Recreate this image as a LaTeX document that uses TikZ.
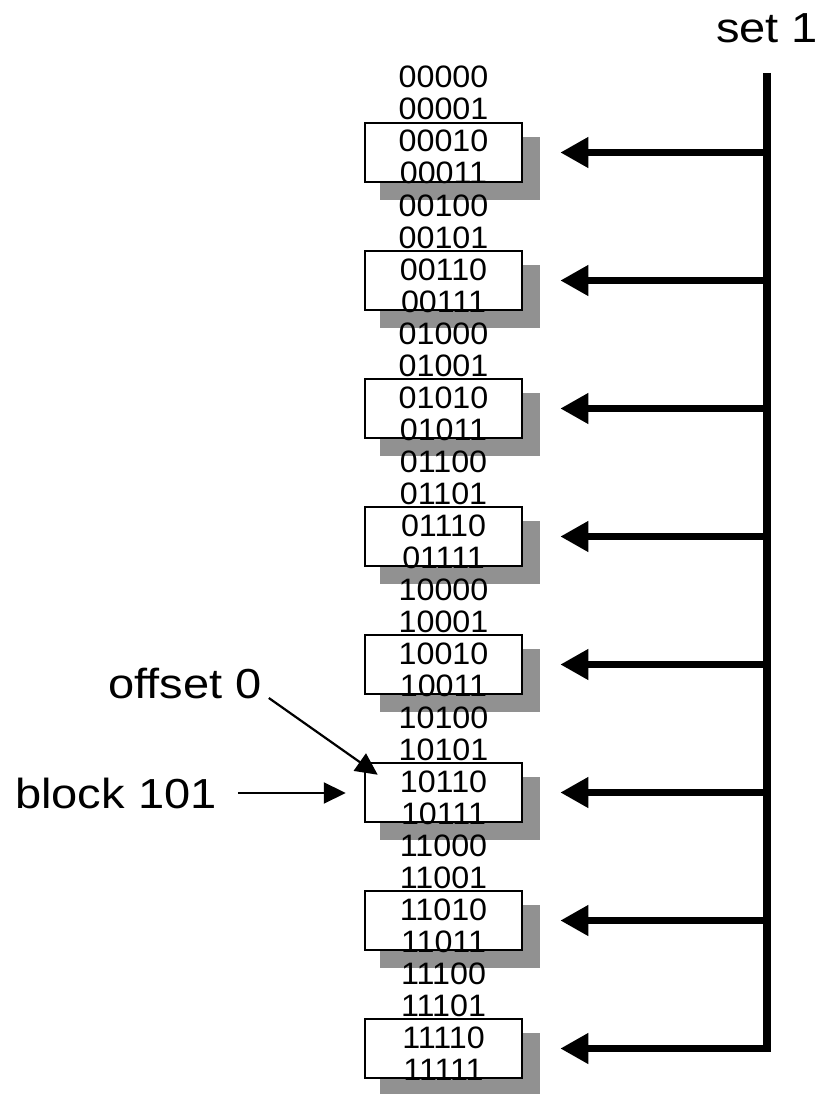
\documentclass[tikz,border=0pt]{standalone}
\usepackage{graphicx}
\usepackage{fontspec}
\setmainfont{Liberation Sans}
\usetikzlibrary{arrows.meta}
\definecolor{shadowgray}{RGB}{145,145,145}
\begin{document}
\begin{tikzpicture}[x=1pt,y=-1pt,
  cachebox/.style={draw=black, line width=2.5pt, fill=white, minimum width=157pt, minimum height=59pt, inner sep=0pt},
  addr/.style={anchor=base, inner sep=0pt, font=\fontsize{31}{31}\selectfont},
  lbl/.style={inner sep=0pt, anchor=base west, font=\fontsize{42}{42}\selectfont},
  setline/.style={line width=7.5pt},
  setarrow/.style={line width=7.5pt, -{Triangle[length=28pt,width=29pt]}},
  thinarrow/.style={line width=2.2pt, -{Triangle[length=22pt,width=21pt]}}]
\useasboundingbox (0,0) rectangle (821,1094);
% shadows and cache blocks
\foreach \k in {0,...,7} {
  \fill[shadowgray] (380,{137+128*\k}) rectangle (540,{200+128*\k});
  \node[cachebox] (b\k) at (443.5,{152.5+128*\k}) {};
}
% addresses
\foreach \s [count=\n from 0] in {00000,00001,00010,00011,00100,00101,00110,00111,01000,01001,01010,01011,01100,01101,01110,01111,10000,10001,10010,10011,10100,10101,10110,10111,11000,11001,11010,11011,11100,11101,11110,11111} {
  \node[addr] (a\n) at (443.5,{88+32*\n}) {\scalebox{1.04}[1]{\s}};
}
% set line
\coordinate (stop) at (767,73);
\coordinate (sbot) at (767,1052);
\draw[setline] (stop) -- (sbot);
\foreach \k in {0,...,7} {
  \coordinate (s\k) at (767,{152.5+128*\k});
  \draw[setarrow] (s\k) -- ([xshift=37pt]b\k.east);
}
% labels
\node[lbl] (set) at (716,43) {\scalebox{1.12}[1]{set 1}};
\node[lbl] (off) at (108,698) {\scalebox{1.12}[1]{offset 0}};
\node[lbl] (blk) at (15,808) {\scalebox{1.12}[1]{block 101}};
\draw[thinarrow] ([xshift=7pt]off.base east) -- ([shift={(14,13)}]b5.north west);
\draw[thinarrow] ([xshift=21pt]blk.east) -- ([xshift=-18pt]blk.east -| b5.west);
\end{tikzpicture}
\end{document}
